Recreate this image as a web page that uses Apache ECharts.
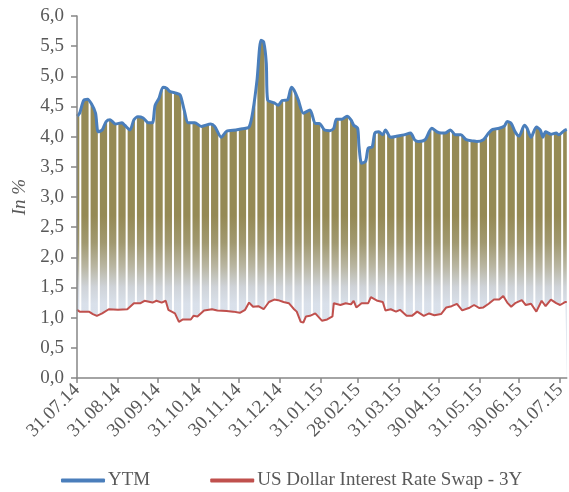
<!DOCTYPE html>
<html>
<head>
<meta charset="utf-8">
<script src="https://cdn.jsdelivr.net/npm/echarts@6/dist/echarts.min.js"></script>
<style>
html,body{margin:0;padding:0;background:#fff;}
#chart{width:569px;height:492px;}
</style>
</head>
<body>
<div id="chart"></div>
<script>
// ---- data ----
const startDate = '31.07.14';
const tickLabels = ['31.07.14','31.08.14','30.09.14','31.10.14','30.11.14','31.12.14','31.01.15','28.02.15','31.03.15','30.04.15','31.05.15','30.06.15','31.07.15'];
const seriesNames = ['YTM', 'US Dollar Interest Rate Swap - 3Y'];

// day offsets from 31.07.14
const ytmDays = [0,2,5,8,11,14,16,19,22,25,29,34,36,40,43,46,50,54,57,59,62,65,68,70,75,78,81,84,89,94,101,104,109,113,120,125,130,133,136,139,141,143,144,149,152,155,159,162,164,167,171,176,180,183,187,191,194,196,200,204,207,209,212,213,215,218,220,223,225,228,231,233,237,242,247,252,255,258,263,268,272,275,278,282,286,290,294,299,302,307,311,314,319,323,325,328,331,334,338,340,343,347,350,352,354,358,362,364,368,370];
const ytmValues = [4.34,4.39,4.60,4.62,4.54,4.39,4.08,4.11,4.25,4.28,4.21,4.23,4.19,4.11,4.28,4.33,4.31,4.23,4.23,4.52,4.64,4.82,4.80,4.75,4.72,4.69,4.44,4.23,4.23,4.17,4.21,4.17,3.99,4.09,4.11,4.13,4.16,4.44,4.94,5.60,5.57,5.22,4.61,4.56,4.52,4.60,4.61,4.82,4.77,4.62,4.39,4.44,4.22,4.22,4.11,4.10,4.14,4.29,4.29,4.34,4.28,4.19,4.14,3.85,3.56,3.59,3.81,3.83,4.06,4.08,4.03,4.11,3.99,4.01,4.03,4.06,3.95,3.92,3.95,4.14,4.08,4.06,4.06,4.11,4.03,4.03,3.95,3.93,3.92,3.95,4.06,4.12,4.14,4.18,4.25,4.22,4.08,4.01,4.19,4.14,3.99,4.16,4.11,3.99,4.08,4.04,4.06,4.03,4.10,4.12];

const swapDays = [0,2,9,12,15,19,24,31,38,43,48,51,57,60,64,67,69,74,77,80,86,88,91,96,102,106,113,118,123,127,130,133,137,141,145,149,152,156,160,164,166,169,171,173,176,180,185,189,193,194,199,203,207,209,211,215,220,222,227,231,233,237,241,244,249,253,257,262,266,270,275,279,283,287,291,296,300,304,307,311,315,319,322,325,328,331,336,339,343,347,351,354,358,362,365,369,370];
const swapValues = [1.13,1.10,1.10,1.06,1.03,1.07,1.14,1.13,1.14,1.24,1.24,1.28,1.25,1.28,1.25,1.28,1.13,1.07,0.93,0.97,0.97,1.03,1.02,1.12,1.14,1.12,1.11,1.10,1.08,1.13,1.25,1.18,1.19,1.14,1.26,1.30,1.29,1.26,1.24,1.14,1.10,0.93,0.92,1.02,1.03,1.07,0.95,0.97,1.02,1.24,1.21,1.24,1.22,1.28,1.17,1.24,1.24,1.34,1.28,1.26,1.12,1.14,1.10,1.13,1.03,1.03,1.10,1.03,1.07,1.04,1.06,1.17,1.19,1.23,1.12,1.16,1.21,1.16,1.17,1.23,1.30,1.30,1.36,1.25,1.18,1.24,1.29,1.21,1.23,1.10,1.28,1.19,1.30,1.24,1.21,1.26,1.26];

// ---- helpers ----
function parseD(s){ const p = s.split('.'); return Date.UTC(2000 + (+p[2]), (+p[1]) - 1, +p[0]); }
const t0 = parseD(startDate);
const tickDays = tickLabels.map(s => Math.round((parseD(s) - t0) / 86400000));
const maxDay = ytmDays[ytmDays.length - 1];

const ytmData = ytmDays.map((d, i) => [d, ytmValues[i]]);
const swapData = swapDays.map((d, i) => [d, swapValues[i]]);

// weekend gaps (Saturday/Sunday) between business-day columns
const weekendData = [];
for (let d = 0; d <= maxDay; d++) {
  const wd = new Date(t0 + d * 86400000).getUTCDay();
  if (wd === 6) weekendData.push([d + 0.5, 6]);
}

const font = 'Liberation Serif';
const txt = '#595959';

const chart = echarts.init(document.getElementById('chart'), null, {renderer: 'canvas'});
chart.setOption({
  animation: false,
  backgroundColor: '#ffffff',
  grid: {left: 77, right: 2, top: 16, bottom: 114, containLabel: false},
  xAxis: {
    type: 'value', min: 0, max: maxDay, z: 10,
    axisLine: {show: true, lineStyle: {color: '#868686', width: 1.5}},
    axisTick: {show: true, inside: false, length: 5, customValues: tickDays, lineStyle: {color: '#868686', width: 1.5}},
    splitLine: {show: false},
    axisLabel: {
      customValues: tickDays, rotate: 45, margin: 9,
      fontFamily: font, fontSize: 19, color: txt,
      formatter: v => { const i = tickDays.indexOf(Math.round(v)); return i >= 0 ? tickLabels[i] : ''; }
    }
  },
  yAxis: {
    type: 'value', min: 0, max: 6, interval: 0.5, z: 10,
    name: 'In %', nameLocation: 'middle', nameGap: 48,
    nameTextStyle: {fontFamily: font, fontSize: 19, fontStyle: 'italic', color: txt},
    axisLine: {show: true, lineStyle: {color: '#868686', width: 1.5}},
    axisTick: {show: true, inside: false, length: 6, lineStyle: {color: '#868686', width: 1.5}},
    splitLine: {show: false},
    axisLabel: {margin: 13, fontFamily: font, fontSize: 19, color: txt,
      formatter: v => v.toFixed(1).replace('.', ',')}
  },
  legend: {
    data: seriesNames, left: 56, top: 466, itemWidth: 44, itemHeight: 4, itemGap: 60,
    icon: 'roundRect',
    textStyle: {fontFamily: font, fontSize: 19, color: txt, padding: [0, 0, 0, -2]}
  },
  series: [
    {
      name: 'ytmFill', type: 'line', data: ytmData, smooth: 0.25, symbol: 'none', z: 1,
      lineStyle: {width: 0}, silent: true,
      areaStyle: {origin: 'start', opacity: 1, color: new echarts.graphic.LinearGradient(0, 0, 0, 1, [
        {offset: 0, color: '#958a55'},
        {offset: 0.52, color: '#958a55'},
        {offset: 0.6, color: '#a19970'},
        {offset: 0.67, color: '#b9b6a2'},
        {offset: 0.73, color: '#cfd3d8'},
        {offset: 0.78, color: '#d9e0ea'},
        {offset: 1, color: '#dfe6f0'}
      ])}
    },
    {
      name: 'swapFill', type: 'line', data: swapData, symbol: 'none', z: 2, silent: true,
      lineStyle: {width: 0}, areaStyle: {origin: 'start', color: '#ffffff', opacity: 1}
    },
    {
      name: 'weekends', type: 'bar', data: weekendData, barWidth: 2, z: 3, silent: true,
      itemStyle: {color: '#ffffff'}
    },
    {
      name: seriesNames[1], type: 'line', data: swapData, symbol: 'none', z: 4,
      lineStyle: {color: '#c0504d', width: 2}, itemStyle: {color: '#c0504d'}
    },
    {
      name: seriesNames[0], type: 'line', data: ytmData, smooth: 0.25, symbol: 'none', z: 5,
      lineStyle: {color: '#4a7ebb', width: 3}, itemStyle: {color: '#4a7ebb'}
    }
  ]
});
</script>
</body>
</html>
